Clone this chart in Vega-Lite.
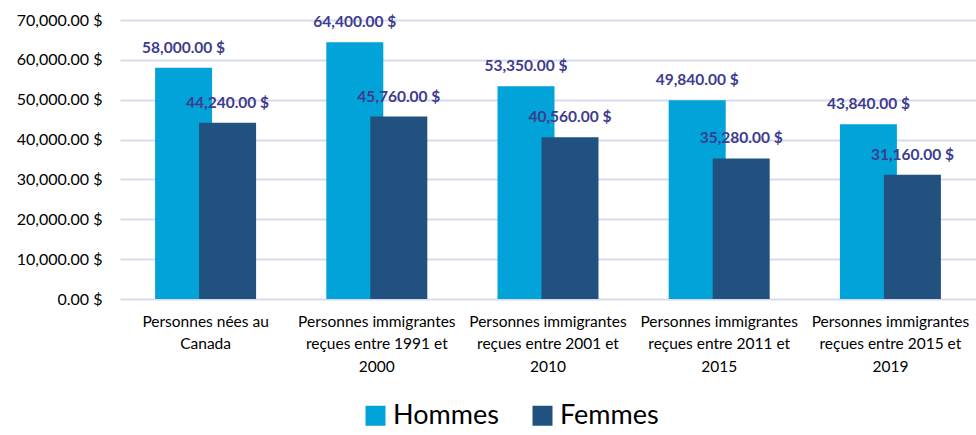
{
  "$schema": "https://vega.github.io/schema/vega-lite/v6.json",
  "width": 856,
  "height": 279,
  "autosize": {"type": "none"},
  "padding": {"left": 120, "top": 20, "right": 0, "bottom": 136},
  "background": "white",
  "data": {
    "values": [
      {"groupe": "Personnes nées au Canada", "sexe": "Hommes", "revenu": 58000},
      {"groupe": "Personnes nées au Canada", "sexe": "Femmes", "revenu": 44240},
      {"groupe": "Personnes immigrantes reçues entre 1991 et 2000", "sexe": "Hommes", "revenu": 64400},
      {"groupe": "Personnes immigrantes reçues entre 1991 et 2000", "sexe": "Femmes", "revenu": 45760},
      {"groupe": "Personnes immigrantes reçues entre 2001 et 2010", "sexe": "Hommes", "revenu": 53350},
      {"groupe": "Personnes immigrantes reçues entre 2001 et 2010", "sexe": "Femmes", "revenu": 40560},
      {"groupe": "Personnes immigrantes reçues entre 2011 et 2015", "sexe": "Hommes", "revenu": 49840},
      {"groupe": "Personnes immigrantes reçues entre 2011 et 2015", "sexe": "Femmes", "revenu": 35280},
      {"groupe": "Personnes immigrantes reçues entre 2015 et 2019", "sexe": "Hommes", "revenu": 43840},
      {"groupe": "Personnes immigrantes reçues entre 2015 et 2019", "sexe": "Femmes", "revenu": 31160}
    ]
  },
  "transform": [
    {"calculate": "format(datum.revenu, ',.2f') + ' $'", "as": "etiquette"}
  ],
  "encoding": {
    "x": {
      "field": "groupe",
      "type": "nominal",
      "sort": null,
      "title": null,
      "scale": {"paddingInner": 0, "paddingOuter": 0},
      "axis": {
        "labelAngle": 0,
        "domain": false,
        "ticks": false,
        "labelPadding": 15,
        "labelFont": "Lato",
        "labelFontSize": 15.5,
        "labelColor": "#000000",
        "labelLineHeight": 22.5,
        "labelBaseline": "top",
        "labelExpr": "datum.value == 'Personnes nées au Canada' ? ['Personnes nées au', 'Canada'] : [slice(datum.value, 0, 21), slice(datum.value, 22, -5), slice(datum.value, -4)]"
      }
    },
    "y": {
      "field": "revenu",
      "type": "quantitative",
      "title": null,
      "scale": {"domain": [0, 70000], "nice": false},
      "axis": {
        "values": [0, 10000, 20000, 30000, 40000, 50000, 60000, 70000],
        "labelExpr": "format(datum.value, ',.2f') + ' $'",
        "domain": false,
        "ticks": false,
        "labelPadding": 18,
        "labelFont": "Lato",
        "labelFontSize": 16,
        "labelColor": "#000000",
        "gridColor": "#d9d9ef",
        "gridWidth": 2,
        "gridOpacity": 1
      }
    }
  },
  "layer": [
    {
      "transform": [{"filter": "datum.sexe == 'Hommes'"}],
      "mark": {"type": "bar", "width": 57, "xOffset": -22},
      "encoding": {
        "color": {
          "field": "sexe",
          "type": "nominal",
          "scale": {"domain": ["Hommes", "Femmes"], "range": ["#02a3d9", "#21527f"]},
          "legend": {
            "title": null,
            "orient": "none",
            "legendX": 242,
            "legendY": 382,
            "direction": "horizontal",
            "symbolType": "square",
            "symbolSize": 400,
            "symbolStrokeWidth": 0,
            "labelFont": "Lato",
            "labelFontSize": 27,
            "labelColor": "#000000",
            "columnPadding": 30,
            "labelOffset": 4
          }
        }
      }
    },
    {
      "transform": [{"filter": "datum.sexe == 'Femmes'"}],
      "mark": {"type": "bar", "width": 57, "xOffset": 22},
      "encoding": {
        "color": {"field": "sexe", "type": "nominal"}
      }
    },
    {
      "transform": [{"filter": "datum.sexe == 'Hommes'"}],
      "mark": {"type": "text", "xOffset": -22, "dy": -20, "baseline": "middle", "font": "Lato", "fontWeight": "bold", "fontSize": 15.5, "color": "#3d3c8e"},
      "encoding": {"text": {"field": "etiquette"}}
    },
    {
      "transform": [{"filter": "datum.sexe == 'Femmes'"}],
      "mark": {"type": "text", "xOffset": 22, "dy": -20, "baseline": "middle", "font": "Lato", "fontWeight": "bold", "fontSize": 15.5, "color": "#3d3c8e"},
      "encoding": {"text": {"field": "etiquette"}}
    }
  ],
  "config": {"view": {"stroke": null}}
}
